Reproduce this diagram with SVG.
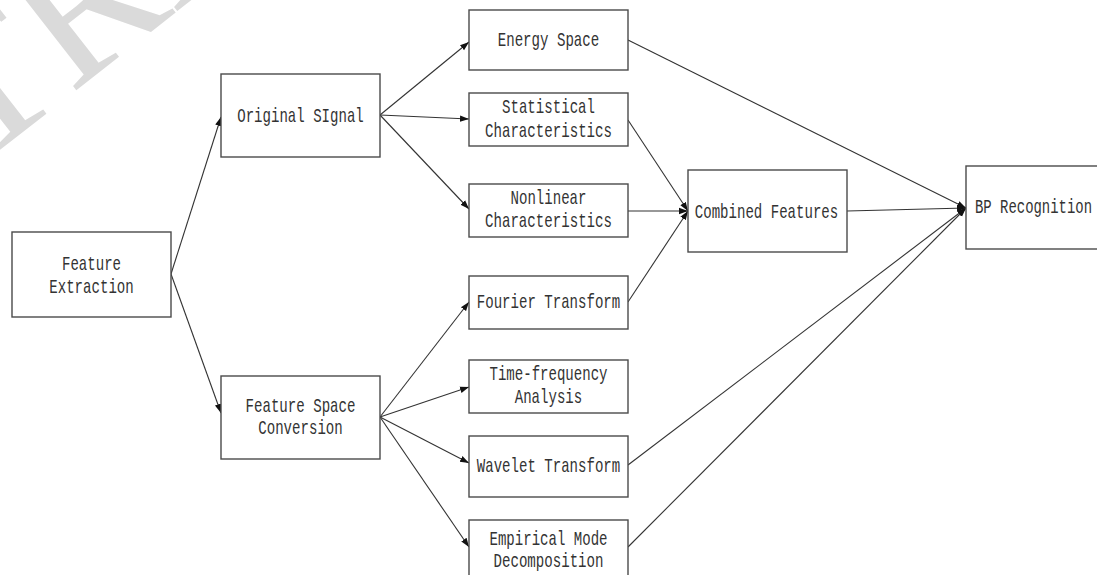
<svg xmlns="http://www.w3.org/2000/svg" width="1097" height="575" viewBox="0 0 1097 575">
<style>
.box{fill:#fff;stroke:#4a4a4a;stroke-width:1.4}
.t{font-family:"Liberation Mono",monospace;font-size:21px;fill:#333;text-anchor:middle}
.c{fill:none;stroke:#333;stroke-width:1.1}
.wm{font-family:"Liberation Serif",serif;font-size:200px;fill:#dadada}
</style>
<defs>
<marker id="ah" markerUnits="userSpaceOnUse" markerWidth="10" markerHeight="8" refX="9" refY="4" orient="auto">
<path d="M0,0.8 L9,4 L0,7.2 Z" fill="#111"/>
</marker>
</defs>
<rect width="1097" height="575" fill="#fff"/>
<text class="wm" transform="translate(-227,327) rotate(-38)">RETRACTED</text>

<g id="connectors">
<line class="c" x1="171" y1="274" x2="221" y2="117" marker-end="url(#ah)"/>
<line class="c" x1="171" y1="274" x2="221" y2="413" marker-end="url(#ah)"/>
<line class="c" x1="380" y1="115" x2="469" y2="42" marker-end="url(#ah)"/>
<line class="c" x1="380" y1="115" x2="469" y2="119" marker-end="url(#ah)"/>
<line class="c" x1="380" y1="115" x2="469" y2="209" marker-end="url(#ah)"/>
<line class="c" x1="380" y1="417" x2="469" y2="302" marker-end="url(#ah)"/>
<line class="c" x1="380" y1="417" x2="469" y2="387" marker-end="url(#ah)"/>
<line class="c" x1="380" y1="417" x2="469" y2="463" marker-end="url(#ah)"/>
<line class="c" x1="380" y1="417" x2="469" y2="547" marker-end="url(#ah)"/>
<line class="c" x1="628" y1="120" x2="688" y2="211" marker-end="url(#ah)"/>
<line class="c" x1="628" y1="211" x2="688" y2="211" marker-end="url(#ah)"/>
<line class="c" x1="628" y1="302" x2="688" y2="211" marker-end="url(#ah)"/>
<line class="c" x1="847" y1="211" x2="966" y2="208" marker-end="url(#ah)"/>
<line class="c" x1="628" y1="40" x2="966" y2="208" marker-end="url(#ah)"/>
<line class="c" x1="628" y1="465" x2="966" y2="208" marker-end="url(#ah)"/>
<line class="c" x1="628" y1="547" x2="966" y2="208" marker-end="url(#ah)"/>
</g>

<g id="feature-extraction">
<rect class="box" x="12" y="232" width="159" height="85"/>
<text class="t" x="91.5" y="270" textLength="59" lengthAdjust="spacingAndGlyphs">Feature</text>
<text class="t" x="91.5" y="293" textLength="84.5" lengthAdjust="spacingAndGlyphs">Extraction</text>
</g>

<g id="original-signal">
<rect class="box" x="221" y="74" width="159" height="83"/>
<text class="t" x="300.5" y="122" textLength="126.5" lengthAdjust="spacingAndGlyphs">Original SIgnal</text>
</g>

<g id="feature-space-conversion">
<rect class="box" x="221" y="376" width="159" height="83"/>
<text class="t" x="300.5" y="411.5" textLength="110" lengthAdjust="spacingAndGlyphs">Feature Space</text>
<text class="t" x="300.5" y="434" textLength="84.5" lengthAdjust="spacingAndGlyphs">Conversion</text>
</g>

<g id="energy-space">
<rect class="box" x="469" y="10" width="159" height="60"/>
<text class="t" x="548.5" y="46" textLength="101.5" lengthAdjust="spacingAndGlyphs">Energy Space</text>
</g>

<g id="statistical-characteristics">
<rect class="box" x="469" y="93" width="159" height="53"/>
<text class="t" x="548.5" y="113" textLength="93" lengthAdjust="spacingAndGlyphs">Statistical</text>
<text class="t" x="548.5" y="136.5" textLength="127" lengthAdjust="spacingAndGlyphs">Characteristics</text>
</g>

<g id="nonlinear-characteristics">
<rect class="box" x="469" y="184" width="159" height="53"/>
<text class="t" x="548.5" y="204" textLength="76" lengthAdjust="spacingAndGlyphs">Nonlinear</text>
<text class="t" x="548.5" y="227" textLength="127" lengthAdjust="spacingAndGlyphs">Characteristics</text>
</g>

<g id="fourier-transform">
<rect class="box" x="469" y="276" width="159" height="53"/>
<text class="t" x="548.5" y="308" textLength="143.5" lengthAdjust="spacingAndGlyphs">Fourier Transform</text>
</g>

<g id="time-frequency-analysis">
<rect class="box" x="469" y="360" width="159" height="53"/>
<text class="t" x="548.5" y="380" textLength="118" lengthAdjust="spacingAndGlyphs">Time-frequency</text>
<text class="t" x="548.5" y="403" textLength="67.5" lengthAdjust="spacingAndGlyphs">Analysis</text>
</g>

<g id="wavelet-transform">
<rect class="box" x="469" y="436" width="159" height="61"/>
<text class="t" x="548.5" y="471.5" textLength="143.5" lengthAdjust="spacingAndGlyphs">Wavelet Transform</text>
</g>

<g id="empirical-mode-decomposition">
<rect class="box" x="469" y="520" width="159" height="70"/>
<text class="t" x="548.5" y="545" textLength="118" lengthAdjust="spacingAndGlyphs">Empirical Mode</text>
<text class="t" x="548.5" y="567" textLength="110" lengthAdjust="spacingAndGlyphs">Decomposition</text>
</g>

<g id="combined-features">
<rect class="box" x="688" y="170" width="159" height="82"/>
<text class="t" x="766.5" y="217.5" textLength="143.5" lengthAdjust="spacingAndGlyphs">Combined Features</text>
</g>

<g id="bp-recognition">
<rect class="box" x="966" y="166" width="136" height="83"/>
<text class="t" x="1033.5" y="213" textLength="117" lengthAdjust="spacingAndGlyphs">BP Recognition</text>
</g>
</svg>
